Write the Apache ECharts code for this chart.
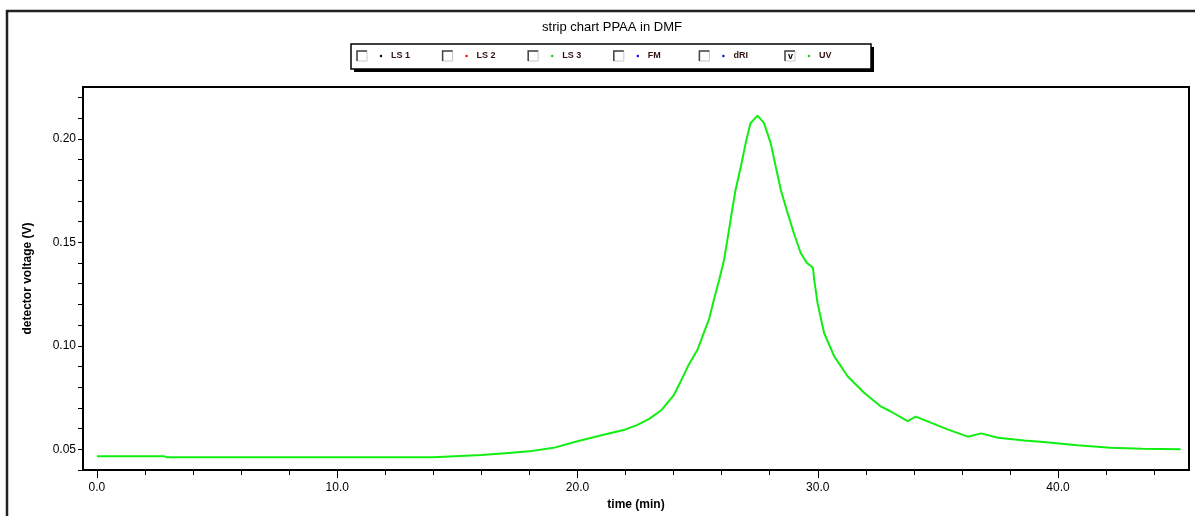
<!DOCTYPE html>
<html>
<head>
<meta charset="utf-8">
<script src="https://cdn.jsdelivr.net/npm/echarts@6/dist/echarts.min.js"></script>
<style>
  html, body { margin: 0; padding: 0; background: #fff; }
  #chart { width: 1195px; height: 516px; }
</style>
</head>
<body>
<div id="chart"></div>
<script>
// Strip chart, UV detector trace
let timeMin = [0, 2.8, 2.9, 14, 16, 17, 18, 19, 20, 21, 22, 22.5, 23, 23.5, 24, 24.3, 24.6, 25.0, 25.26, 25.47,
  25.68, 25.9, 26.1, 26.24, 26.44, 26.58, 26.8, 27.0, 27.2, 27.49, 27.76, 28.04, 28.25, 28.46, 28.74, 29.0,
  29.29, 29.55, 29.8, 29.85, 29.99, 30.26, 30.68, 31.24, 31.93, 32.6, 33.0, 33.74, 34.08, 34.7, 35.4, 36.24,
  36.8, 37.5, 38.6, 39.4, 40.8, 42.2, 43.5, 45.1];
let uvVolts = [0.0466, 0.0466, 0.0462, 0.0462, 0.0472, 0.0481, 0.0490, 0.0507, 0.0539, 0.0568, 0.0596, 0.0618,
  0.0648, 0.0690, 0.0760, 0.0829, 0.0902, 0.0982, 0.1064, 0.1127, 0.1223, 0.1320, 0.1416, 0.1513, 0.1657,
  0.1754, 0.1866, 0.1979, 0.2075, 0.2112, 0.2077, 0.1979, 0.1866, 0.1754, 0.1643, 0.1546, 0.1448, 0.1400,
  0.1377, 0.1320, 0.1207, 0.1063, 0.0950, 0.0853, 0.0773, 0.0709, 0.0685, 0.0636, 0.0658, 0.0629, 0.0596,
  0.0561, 0.0577, 0.0556, 0.0543, 0.0535, 0.0519, 0.0508, 0.0503, 0.0500];

let xTicks = [0, 2, 4, 6, 8, 10, 12, 14, 16, 18, 20, 22, 24, 26, 28, 30, 32, 34, 36, 38, 40, 42, 44];
let xLabels = [0, 10, 20, 30, 40];
let yTicks = [0.04, 0.05, 0.06, 0.07, 0.08, 0.09, 0.10, 0.11, 0.12, 0.13, 0.14, 0.15, 0.16, 0.17, 0.18, 0.19, 0.20, 0.21, 0.22];
let yLabels = [0.05, 0.10, 0.15, 0.20];

let legendNames = ["LS 1", "LS 2", "LS 3", "FM", "dRI", "UV"];
let legendColors = ["#000000", "#ff0000", "#00dd00", "#0000ff", "#0000ff", "#00dd00"];
let legendChecked = [false, false, false, false, false, true];

const FONT = "'Liberation Sans', Arial, sans-serif";

// legend box drawn by hand: sunken checkbox, dot, label
let legendItems = [];
legendNames.forEach((name, i) => {
  let x0 = 357 + i * 85.6;
  legendItems.push({ type: "rect", shape: { x: x0, y: 51, width: 10, height: 10 }, style: { fill: "#fff", stroke: "#c8c8c8", lineWidth: 1 } });
  legendItems.push({ type: "polyline", shape: { points: [[x0, 61], [x0, 51], [x0 + 10, 51]] }, style: { stroke: "#444", lineWidth: 1.5, fill: null } });
  if (legendChecked[i]) {
    legendItems.push({ type: "text", style: { x: x0 + 5.5, y: 57, text: "v", font: "bold 9px " + FONT, fill: "#000", align: "center", verticalAlign: "middle" } });
  }
  legendItems.push({ type: "circle", shape: { cx: x0 + 24, cy: 56, r: 1.2 }, style: { fill: legendColors[i] } });
  legendItems.push({ type: "text", style: { x: x0 + 34, y: 56, text: name, font: "bold 9px " + FONT, fill: "#331111", verticalAlign: "middle" } });
});

let chart = echarts.init(document.getElementById("chart"));
chart.setOption({
  animation: false,
  grid: { left: 83, top: 87, right: 6, bottom: 45, show: true, borderColor: "#000", borderWidth: 2, backgroundColor: "#fff" },
  xAxis: [
    {
      type: "value", min: -0.58, max: 45.45,
      name: "time (min)", nameLocation: "middle", nameGap: 29,
      nameTextStyle: { fontFamily: FONT, fontSize: 12, fontWeight: "bold", color: "#000" },
      splitLine: { show: false },
      axisLine: { show: true, onZero: false, lineStyle: { color: "#000", width: 2 } },
      axisTick: { show: true, length: 5, customValues: xTicks, lineStyle: { color: "#000" } },
      axisLabel: { customValues: xLabels, margin: 12, fontFamily: FONT, fontSize: 12, color: "#000",
        formatter: (v) => v.toFixed(1) }
    },
    {
      type: "value", min: -0.58, max: 45.45, position: "bottom",
      splitLine: { show: false },
      axisLine: { show: false },
      axisTick: { show: true, length: 8, customValues: xLabels, lineStyle: { color: "#000" } },
      axisLabel: { show: false }
    }
  ],
  yAxis: {
    type: "value", min: 0.04, max: 0.225,
    name: "detector voltage (V)", nameLocation: "middle", nameGap: 49,
    nameTextStyle: { fontFamily: FONT, fontSize: 12, fontWeight: "bold", color: "#000" },
    splitLine: { show: false },
    axisLine: { show: true, onZero: false, lineStyle: { color: "#000", width: 2 } },
    axisTick: { show: true, length: 5, customValues: yTicks, lineStyle: { color: "#000" } },
    axisLabel: { customValues: yLabels, margin: 7, fontFamily: FONT, fontSize: 12, color: "#000",
      formatter: (v) => v.toFixed(2) }
  },
  series: [{
    name: "UV", type: "line", xAxisIndex: 0,
    data: timeMin.map((t, i) => [t, uvVolts[i]]),
    showSymbol: false, smooth: false,
    lineStyle: { color: "#11ee11", width: 2 }
  }],
  graphic: [
    { type: "polyline", shape: { points: [[7, 520], [7, 11], [1200, 11]] }, style: { stroke: "#222", lineWidth: 2.5, fill: null } },
    { type: "text", style: { x: 612, y: 27, text: "strip chart PPAA in DMF", font: "13px " + FONT, fill: "#000", align: "center", verticalAlign: "middle" } },
    // drop shadow of the legend box, then the box itself
    { type: "rect", shape: { x: 354, y: 47, width: 520, height: 25 }, style: { fill: "#000" } },
    { type: "rect", shape: { x: 351, y: 44, width: 520, height: 25 }, style: { fill: "#fff", stroke: "#000", lineWidth: 1.5 } },
    { type: "group", children: legendItems }
  ]
});
</script>
</body>
</html>
